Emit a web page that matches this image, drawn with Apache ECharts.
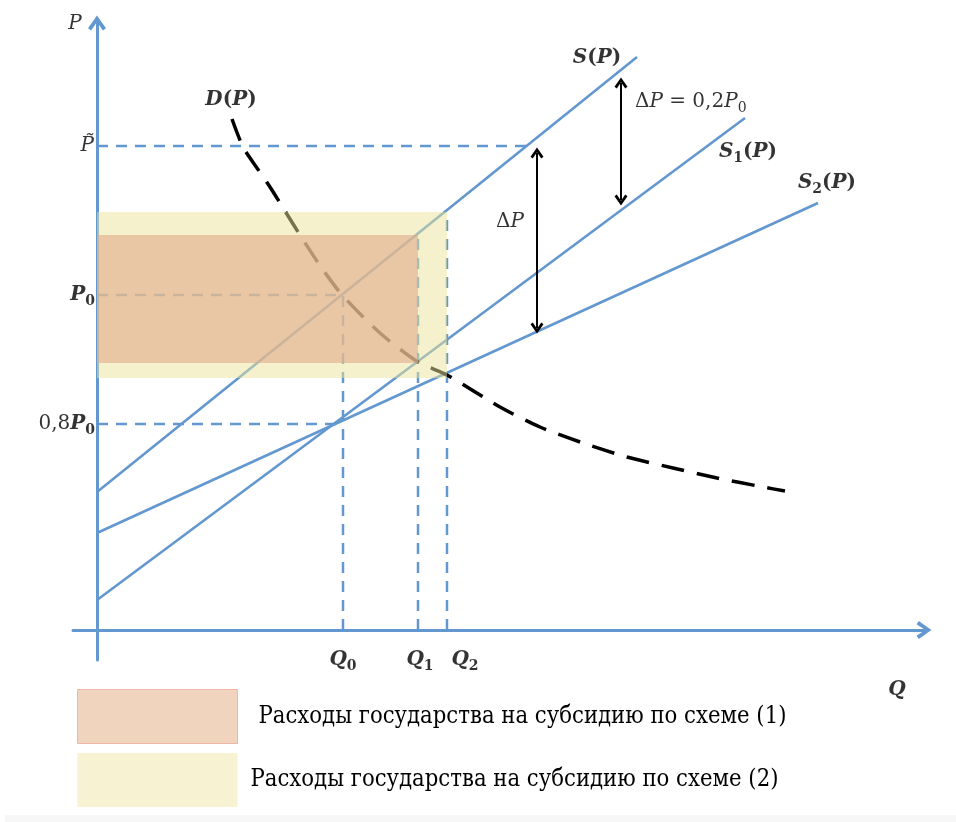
<!DOCTYPE html>
<html>
<head>
<meta charset="utf-8">
<style>html,body{margin:0;padding:0;background:#fff;}#c{width:956px;height:822px;}</style>
<script src="https://cdn.jsdelivr.net/npm/echarts@6/dist/echarts.min.js"></script>
</head>
<body>
<div id="c"></div>
<script>
// ---- data (Q on x, P on y; schematic units) ----
const supplyS  = [[0, 138], [540, 573]];
const supplyS1 = [[0, 30], [648, 512]];
const supplyS2 = [[0, 97], [721, 427]];
const demandD  = [[135, 511], [146, 483], [160, 462], [173, 443], [188, 419], [203, 395], [224, 363],
                  [246, 334], [283, 297], [321, 268], [350, 255], [403, 223], [443, 203],
                  [486, 187], [530, 173], [576, 162], [620, 152], [666, 143], [688, 139]];
const priceLevels = { pTilde: 484, p0: 335, p08: 206 };
const qtyLevels   = { q0: 246, q1: 321, q2: 350 };
const guideH = [[[0, 484], [430, 484]], [[0, 335], [246, 335]], [[0, 206], [244, 206]]];
const guideV = [[[246, 0], [246, 335]], [[321, 0], [321, 395]], [[350, 0], [350, 418]]];
const subsidy1 = [[0, 267, 321, 395]];
const subsidy2 = [[0, 252, 350, 418]];
const deltaArrowA = [[440, 477], [440, 302]];
const deltaArrowB = [[524, 547], [524, 430]];
const legendNames = ['Расходы государства на субсидию по схеме (1)', 'Расходы государства на субсидию по схеме (2)'];

const BLUE = '#6397cf';
const chevron = 'path://M0,14 L10,0 L20,14 L16.5,16.5 L10,7 L3.5,16.5 Z';
const MF = 'DejaVu Serif';

function lineSeries(data, style, z) {
  return { type: 'line', data: data, symbol: 'none', showSymbol: false, silent: true,
           animation: false, z: z || 2, lineStyle: style };
}
function rectSeries(name, data, fill) {
  return {
    type: 'custom', name: name, data: data, z: 3, silent: true, animation: false,
    encode: { x: [0, 2], y: [1, 3] },
    itemStyle: { color: fill },
    renderItem: function (params, api) {
      const a = api.coord([api.value(0), api.value(3)]);
      const b = api.coord([api.value(2), api.value(1)]);
      return { type: 'rect', shape: { x: a[0], y: a[1], width: b[0] - a[0], height: b[1] - a[1] },
               style: { fill: fill } };
    }
  };
}

const rich = {
  i:  { fontFamily: MF, fontStyle: 'italic', fontSize: 20, color: '#000' },
  r:  { fontFamily: MF, fontSize: 20, color: '#000' },
  bi: { fontFamily: MF, fontStyle: 'italic', fontWeight: 'bold', fontSize: 20, color: '#000' },
  br: { fontFamily: MF, fontWeight: 'bold', fontSize: 20, color: '#000' },
  s:  { fontFamily: MF, fontWeight: 'bold', fontSize: 14, color: '#000', padding: [12, 0, 0, 0] },
  sr: { fontFamily: MF, fontSize: 14, color: '#000', padding: [12, 0, 0, 0] }
};
function lbl(x, y, text, align) {
  return { value: [x, y], label: { show: true, position: 'inside', formatter: text, align: align || 'center',
           color: '#000', textBorderWidth: 0, rich: rich } };
}
const labels = [
  lbl(-22, 606, '{i|P}'),
  lbl(-3, priceLevels.pTilde, '{i|P\u0303}', 'right'),
  lbl(-2, priceLevels.p0, '{bi|P}{s|0}', 'right'),
  lbl(-2, priceLevels.p08, '{r|0,8}{bi|P}{s|0}', 'right'),
  lbl(qtyLevels.q0, -30, '{bi|Q}{s|0}'),
  lbl(qtyLevels.q1 + 2, -30, '{bi|Q}{s|1}'),
  lbl(qtyLevels.q2 + 18, -30, '{bi|Q}{s|2}'),
  lbl(800, -60, '{bi|Q}'),
  lbl(134, 530, '{bi|D}{br|(}{bi|P}{br|)}'),
  lbl(500, 572, '{bi|S}{br|(}{bi|P}{br|)}'),
  lbl(651, 478, '{bi|S}{s|1}{br|(}{bi|P}{br|)}'),
  lbl(730, 447, '{bi|S}{s|2}{br|(}{bi|P}{br|)}'),
  lbl(413, 408, '{r|Δ}{i|P}'),
  lbl(538, 528, '{r|Δ}{i|P}{r| = 0,2}{i|P}{sr|0}', 'left')
];

const guideStyle = { color: BLUE, width: 2.5, type: [11, 8] };
const series = [];
guideH.forEach(g => series.push(lineSeries(g, guideStyle, 2)));
guideV.forEach(g => series.push(lineSeries(g, guideStyle, 2)));
series.push(lineSeries(supplyS,  { color: BLUE, width: 2.6 }, 2));
series.push(lineSeries(supplyS1, { color: BLUE, width: 2.6 }, 2));
series.push(lineSeries(supplyS2, { color: BLUE, width: 2.6 }, 2));
series.push(Object.assign(lineSeries(demandD, { color: '#000', width: 3.5, type: [23, 13] }, 2), { smooth: 0.25 }));
series.push(rectSeries(legendNames[1], subsidy2, 'rgba(235,227,153,0.5)'));
series.push(rectSeries(legendNames[0], subsidy1, 'rgba(225,171,139,0.6)'));
series.push({
  type: 'line', data: [], silent: true, animation: false, z: 4,
  markLine: {
    silent: true, animation: false, symbol: [chevron, chevron], symbolSize: [13, 11],
    label: { show: false }, lineStyle: { color: '#000', width: 2, type: 'solid' },
    data: [
      [{ coord: deltaArrowA[0] }, { coord: deltaArrowA[1] }],
      [{ coord: deltaArrowB[0] }, { coord: deltaArrowB[1] }]
    ]
  }
});
series.push({ type: 'scatter', symbolSize: 0, data: labels, clip: false, silent: true, animation: false, z: 6 });

const axisCommon = {
  type: 'value', axisTick: { show: false }, axisLabel: { show: false }, splitLine: { show: false },
  axisLine: { show: true, onZero: true, symbol: ['none', chevron], symbolSize: [18, 16],
              lineStyle: { color: BLUE, width: 3 } }
};

const chart = echarts.init(document.getElementById('c'), null, { renderer: 'canvas' });
chart.setOption({
  backgroundColor: '#fff',
  animation: false,
  grid: { left: 73, right: 32, top: 23, bottom: 162 },
  xAxis: Object.assign({}, axisCommon, { min: -24, max: 827 }),
  yAxis: Object.assign({}, axisCommon, { min: -30, max: 607 }),
  legend: {
    orient: 'vertical', left: 77, top: 689, padding: 0, itemWidth: 160, itemHeight: 54, itemGap: 9,
    selectedMode: false, icon: 'rect',
    textStyle: { fontFamily: 'DejaVu Serif Condensed, DejaVu Serif', fontSize: 23.6, color: '#000' },
    data: [
      { name: legendNames[0], itemStyle: { color: '#f1d4bd', borderColor: '#efb8a6', borderWidth: 1 },
        textStyle: { padding: [0, 0, 0, 16] } },
      { name: legendNames[1], itemStyle: { color: '#f6f2d2', borderWidth: 0 },
        textStyle: { padding: [0, 0, 0, 8] } }
    ]
  },
  graphic: [{ type: 'rect', left: 5, top: 815, shape: { width: 951, height: 7 }, style: { fill: '#f7f7f7' }, silent: true }],
  series: series
});
</script>
</body>
</html>
